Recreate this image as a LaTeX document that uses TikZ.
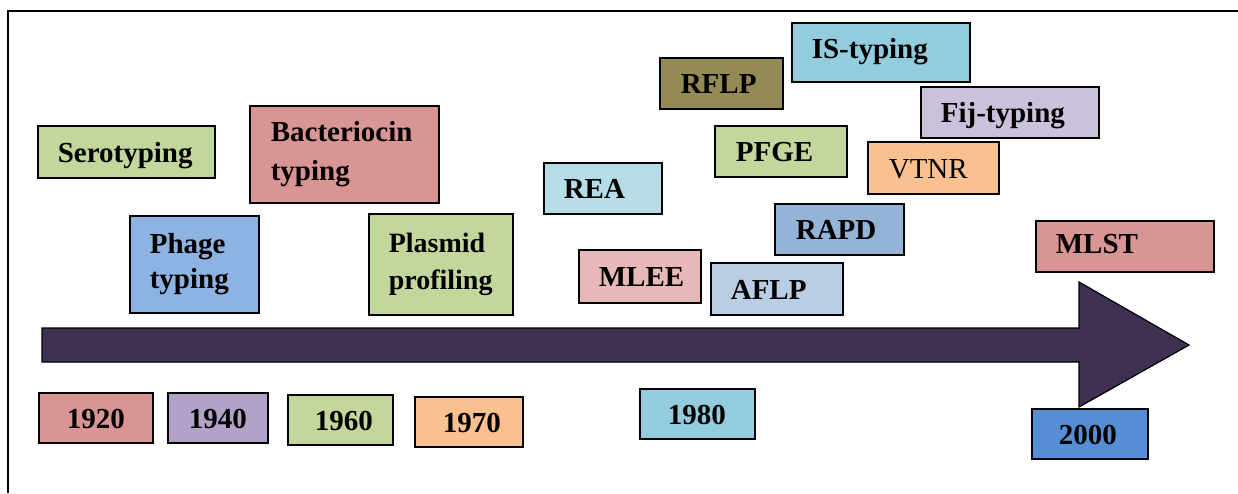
\documentclass[tikz,border=0pt]{standalone}
\usepackage{fontspec}
\setmainfont{Liberation Serif}
\definecolor{cgreen}{HTML}{C3D69B}
\definecolor{cred}{HTML}{D99594}
\definecolor{cblue}{HTML}{8DB3E2}
\definecolor{clblue}{HTML}{B7DEE8}
\definecolor{cpink}{HTML}{E6B9B8}
\definecolor{caflp}{HTML}{B9CDE5}
\definecolor{crapd}{HTML}{95B3D7}
\definecolor{colive}{HTML}{948A54}
\definecolor{ccyan}{HTML}{93CDDD}
\definecolor{clav}{HTML}{CCC1DA}
\definecolor{corange}{HTML}{FAC090}
\definecolor{cpurple}{HTML}{B3A2C7}
\definecolor{cdblue}{HTML}{558ED5}
\definecolor{carrow}{HTML}{403152}
\tikzset{
  box/.style={draw=black, line width=1.6pt, anchor=north west, align=left,
    font=\fontsize{29}{37}\selectfont\bfseries, inner ysep=0pt},
  one/.style={text height=24pt, text depth=3pt},
  bx/.style n args={3}{minimum width=#1, minimum height=#2, inner xsep=#3, text width=#1-2*#3},
}
\begin{document}
\begin{tikzpicture}[x=1pt,y=-1pt]
\useasboundingbox (0,0) rectangle (1238,493);
% frame
\draw[line width=2pt] (8,493) -- (8,11) -- (1238,11);
% arrow
\coordinate (a1) at (42,328);
\coordinate (a2) at (1079,328);
\coordinate (a3) at (1079,282);
\coordinate (a4) at (1189,345);
\coordinate (a5) at (1079,407);
\coordinate (a6) at (1079,362);
\coordinate (a7) at (42,362);
\draw[fill=carrow, line width=1.2pt] (a1) -- (a2) -- (a3) -- (a4) -- (a5) -- (a6) -- (a7) -- cycle;
% methods
\node[box, one, fill=cgreen, bx={177pt}{52pt}{20pt}] (sero) at (37,125) {Serotyping};
\node[box, fill=cred, bx={189pt}{97pt}{21pt}, font=\fontsize{29}{39}\selectfont\bfseries] (bact) at (249,105) {Bacteriocin\\typing};
\node[box, fill=cblue, bx={129pt}{97pt}{20pt}, font=\fontsize{29}{35}\selectfont\bfseries] (phage) at (129,215) {Phage\\typing};
\node[box, fill=cgreen, bx={144pt}{101pt}{20pt}, font=\fontsize{28}{37}\selectfont\bfseries] (plas) at (368,213) {Plasmid\\profiling};
\node[box, one, fill=clblue, bx={118pt}{51pt}{20pt}] (rea) at (543,162) {REA};
\node[box, one, fill=cpink, bx={122pt}{53pt}{20pt}] (mlee) at (578,249) {MLEE};
\node[box, one, fill=caflp, bx={132pt}{52pt}{20pt}] (aflp) at (710,262) {AFLP};
\node[box, one, fill=crapd, bx={129pt}{51pt}{21pt}] (rapd) at (774,203) {RAPD};
\node[box, one, fill=colive, bx={123pt}{51pt}{21pt}] (rflp) at (659,57) {RFLP};
\node[box, fill=ccyan, bx={178pt}{59pt}{20pt}, text height=20pt, text depth=7pt] (is) at (791,22) {IS-typing};
\node[box, one, fill=cgreen, bx={132pt}{51pt}{21pt}] (pfge) at (714,125) {PFGE};
\node[box, one, fill=clav, bx={178pt}{51pt}{20pt}] (fij) at (920,86) {Fij-typing};
\node[box, one, fill=corange, bx={131pt}{52pt}{21pt}, font=\fontsize{29}{37}\selectfont] (vtnr) at (867,141) {VTNR};
\node[box, fill=cred, bx={178pt}{51pt}{20pt}, text height=21pt, text depth=6pt] (mlst) at (1035,220) {MLST};
% years
\node[box, one, fill=cred, bx={114pt}{50pt}{28pt}] (y1920) at (38,392) {1920};
\node[box, one, fill=cpurple, bx={100pt}{50pt}{21pt}] (y1940) at (167,392) {1940};
\node[box, one, fill=cgreen, bx={105pt}{50pt}{27pt}] (y1960) at (287,394) {1960};
\node[box, one, fill=corange, bx={108pt}{50pt}{28pt}] (y1970) at (414,396) {1970};
\node[box, one, fill=ccyan, bx={115pt}{50pt}{28pt}] (y1980) at (639,388) {1980};
\node[box, one, fill=cdblue, bx={116pt}{50pt}{27pt}] (y2000) at (1031,408) {2000};
\end{tikzpicture}
\end{document}
